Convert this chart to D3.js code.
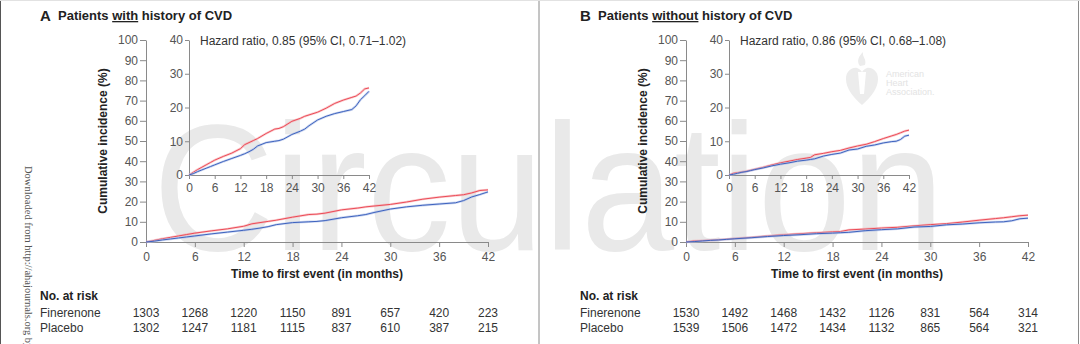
<!DOCTYPE html>
<html>
<head>
<meta charset="utf-8">
<title>Cumulative incidence by history of CVD</title>
<script src="https://d3js.org/d3.v7.min.js"></script>
<style>
body { margin: 0; background: #fff; }
svg { display: block; font-family: "Liberation Sans", Arial, sans-serif; }
.axis path, .axis line { stroke: #8a8a8a; }
.axis text { fill: #555; font-size: 12px; font-family: "Liberation Sans", Arial, sans-serif; }
</style>
</head>
<body>
<svg width="1080" height="344"></svg>
<script>

// curves (months, cumulative incidence %)
var monthsA   = [0, 1, 2, 3, 4, 5, 6, 8, 10, 12, 13, 14, 15, 16, 18, 20, 21, 22, 24, 26, 27, 28, 30, 32, 34, 36, 38, 39, 40, 41, 42];
var placeboA  = [0, 0.8, 1.6, 2.3, 3.0, 3.7, 4.4, 5.5, 6.5, 7.8, 9.0, 9.6, 10.2, 10.8, 12.3, 13.6, 13.8, 14.3, 15.9, 16.8, 17.4, 17.8, 18.6, 19.8, 21.2, 22.2, 23.0, 23.4, 24.3, 25.5, 25.8];
var fineA     = [0, 0.4, 1.0, 1.5, 2.0, 2.5, 3.0, 4.0, 4.9, 5.8, 6.3, 6.9, 7.6, 8.6, 9.6, 10.0, 10.2, 10.6, 12.0, 13.0, 13.6, 14.6, 16.3, 17.4, 18.2, 18.8, 19.4, 20.5, 22.3, 23.5, 24.8];

var monthsB   = [0, 1, 2, 3, 4, 5, 6, 8, 10, 12, 14, 16, 18, 19, 20, 22, 24, 26, 28, 30, 32, 34, 36, 38, 39, 40, 41, 42];
var placeboB  = [0, 0.5, 0.7, 0.9, 1.1, 1.4, 1.7, 2.3, 3.0, 3.6, 4.1, 4.6, 5.0, 5.2, 6.0, 6.4, 6.9, 7.3, 8.0, 8.6, 9.1, 9.9, 10.8, 11.6, 12.0, 12.5, 13.0, 13.3];
var fineB     = [0, 0.2, 0.5, 0.8, 1.0, 1.3, 1.6, 2.1, 2.7, 3.2, 3.6, 4.1, 4.4, 4.6, 4.8, 5.6, 6.1, 6.5, 7.4, 7.7, 8.5, 8.9, 9.5, 9.9, 10.0, 10.5, 11.5, 11.8];

var tickMonths = [0, 6, 12, 18, 24, 30, 36, 42];
var mainTicks  = [0, 10, 20, 30, 40, 50, 60, 70, 80, 90, 100];
var insetTicks = [0, 10, 20, 30, 40];

var riskFineA = [1303, 1268, 1220, 1150, 891, 657, 420, 223];
var riskPlacA = [1302, 1247, 1181, 1115, 837, 610, 387, 215];
var riskFineB = [1530, 1492, 1468, 1432, 1126, 831, 564, 314];
var riskPlacB = [1539, 1506, 1472, 1434, 1132, 865, 564, 321];

var panels = [
  { letter: "A", word: "with",    hr: "Hazard ratio, 0.85 (95% CI, 0.71\u20131.02)",
    months: monthsA, plac: placeboA, fine: fineA, riskF: riskFineA, riskP: riskPlacA },
  { letter: "B", word: "without", hr: "Hazard ratio, 0.86 (95% CI, 0.68\u20131.08)",
    months: monthsB, plac: placeboB, fine: fineB, riskF: riskFineB, riskP: riskPlacB }
];

var red = "#ec4b57", redHalo = "#f6a9ae";
var blue = "#3e63bf", blueHalo = "#a9bbe6";

var svg = d3.select("svg");

// watermark behind everything
svg.append("text")
  .attr("x", 153).attr("y", 250)
  .attr("textLength", 791).attr("lengthAdjust", "spacingAndGlyphs")
  .style("font-family", "'Liberation Sans', Arial, sans-serif")
  .style("font-size", "180px")
  .attr("fill", "#e9e9e9")
  .text("Circulation");

// AHA logo (faint)
var logo = svg.append("g").attr("transform", "translate(862,78)");
logo.append("path")
  .attr("d", "M0,27 C-10,18 -16,10 -16,1 C-16,-7 -10,-11 -5,-10 C-2,-9 0,-7 0,-5 C0,-7 2,-9 5,-10 C10,-11 16,-7 16,1 C16,10 10,18 0,27 Z")
  .attr("fill", "#ececec");
logo.append("path")
  .attr("d", "M-2,-12 C-6,-17 -3,-22 1,-26 C0,-21 5,-19 3,-13 Z")
  .attr("fill", "#ececec");
logo.append("path")
  .attr("d", "M-4,-6 L4,-6 L2,16 L-2,16 Z")
  .attr("fill", "#fff");
["American", "Heart", "Association."].forEach(function(t, i) {
  svg.append("text").attr("x", 886).attr("y", 77 + i * 9)
    .attr("fill", "#e3e3e3").style("font-size", "9px").text(t);
});

// frame lines
svg.append("line").attr("x1", 0.5).attr("x2", 0.5).attr("y1", 0).attr("y2", 344).attr("stroke", "#555");
svg.append("line").attr("x1", 539).attr("x2", 539).attr("y1", 0).attr("y2", 344).attr("stroke", "#8a8a8a");
svg.append("line").attr("x1", 1078.5).attr("x2", 1078.5).attr("y1", 0).attr("y2", 344).attr("stroke", "#8a8a8a");
svg.append("line").attr("x1", 0).attr("x2", 1080).attr("y1", 0.5).attr("y2", 0.5).attr("stroke", "#e2e2e2");

// side stamp
svg.append("text")
  .attr("transform", "translate(25,166) rotate(90)")
  .style("font-family", "'Liberation Serif', 'DejaVu Serif', serif")
  .style("font-size", "10.5px")
  .attr("fill", "#555")
  .text("Downloaded from http://ahajournals.org by on");

panels.forEach(function(p, i) {
  var g = svg.append("g").attr("transform", "translate(" + (540 * i) + ",0)");

  var x = d3.scaleLinear().domain([0, 42]).range([146, 488]);
  var y = d3.scaleLinear().domain([0, 100]).range([242, 40]);
  var xi = d3.scaleLinear().domain([0, 42]).range([189, 369]);
  var yi = d3.scaleLinear().domain([0, 40]).range([175, 40]);

  // title
  g.append("text").attr("x", 40).attr("y", 21)
    .style("font-size", "15px").style("font-weight", "bold").attr("fill", "#222")
    .text(p.letter);
  var t = g.append("text").attr("x", 58).attr("y", 20)
    .style("font-size", "13px").style("font-weight", "bold").attr("fill", "#222");
  t.append("tspan").text("Patients ");
  t.append("tspan").style("text-decoration", "underline").text(p.word);
  t.append("tspan").text(" history of CVD");

  // main axes
  g.append("g").attr("class", "axis").attr("transform", "translate(0,242)")
    .call(d3.axisBottom(x).tickValues(tickMonths).tickSize(5).tickPadding(5).tickSizeOuter(0));
  g.append("g").attr("class", "axis").attr("transform", "translate(146,0)")
    .call(d3.axisLeft(y).tickValues(mainTicks).tickSize(6).tickPadding(2).tickSizeOuter(0));

  // inset axes
  g.append("g").attr("class", "axis").attr("transform", "translate(0,175)")
    .call(d3.axisBottom(xi).tickValues(tickMonths).tickSize(4).tickPadding(4).tickSizeOuter(0));
  g.append("g").attr("class", "axis").attr("transform", "translate(189,0)")
    .call(d3.axisLeft(yi).tickValues(insetTicks).tickSize(4).tickPadding(2).tickSizeOuter(0));

  g.selectAll(".axis text").style("font-size", "12px");

  // axis titles
  g.append("text").attr("x", 317).attr("y", 278).attr("text-anchor", "middle")
    .style("font-size", "12px").style("font-weight", "bold").attr("fill", "#222")
    .text("Time to first event (in months)");
  g.append("text").attr("transform", "translate(107,141) rotate(-90)").attr("text-anchor", "middle")
    .style("font-size", "12px").style("font-weight", "bold").attr("fill", "#222")
    .text("Cumulative incidence (%)");

  g.append("text").attr("x", 200).attr("y", 45)
    .style("font-size", "12px").attr("fill", "#333").text(p.hr);

  // curves
  function draw(xs, ys, vals, col, halo) {
    var pts = p.months.map(function(m, k) { return [m, vals[k]]; });
    var line = d3.line().x(function(d) { return xs(d[0]); }).y(function(d) { return ys(d[1]); });
    g.append("path").attr("d", line(pts)).attr("fill", "none").attr("stroke", halo).attr("stroke-width", 2.4).attr("opacity", 0.6);
    g.append("path").attr("d", line(pts)).attr("fill", "none").attr("stroke", col).attr("stroke-width", 1);
  }
  draw(x, y, p.plac, red, redHalo);
  draw(x, y, p.fine, blue, blueHalo);
  draw(xi, yi, p.plac, red, redHalo);
  draw(xi, yi, p.fine, blue, blueHalo);

  // risk table
  g.append("text").attr("x", 40).attr("y", 300)
    .style("font-size", "12px").style("font-weight", "bold").attr("fill", "#222").text("No. at risk");
  [["Finerenone", p.riskF, 316.5], ["Placebo", p.riskP, 332]].forEach(function(r) {
    g.append("text").attr("x", 40).attr("y", r[2]).style("font-size", "12px").attr("fill", "#333").text(r[0]);
    g.selectAll(null).data(r[1]).enter().append("text")
      .attr("x", function(d, k) { return x(tickMonths[k]); })
      .attr("y", r[2]).attr("text-anchor", "middle")
      .style("font-size", "12px").attr("fill", "#333")
      .text(function(d) { return d; });
  });
});

</script>
</body>
</html>
